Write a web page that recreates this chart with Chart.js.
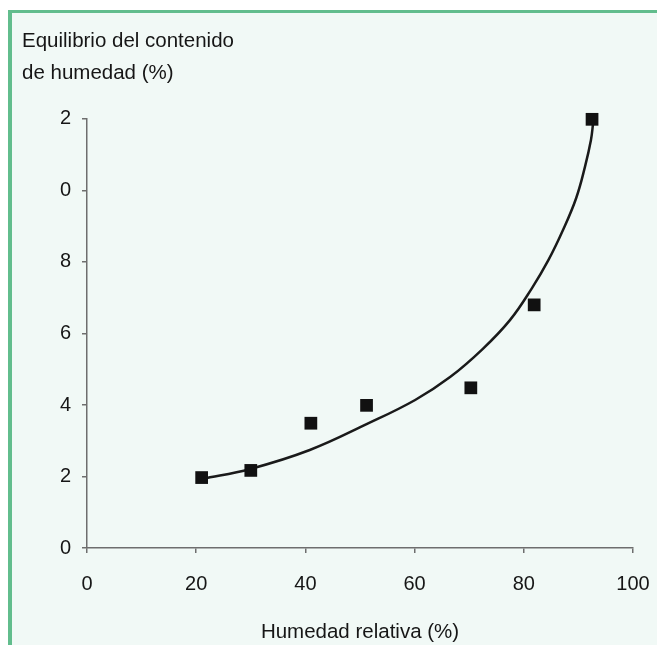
<!DOCTYPE html>
<html lang="es">
<head>
    <meta charset="UTF-8">
    <title>Equilibrio del contenido de humedad</title>
    <script src="https://cdn.jsdelivr.net/npm/chart.js"></script>
    <style>
        html, body {
            margin: 0;
            padding: 0;
            background: #ffffff;
            overflow: hidden;
        }
        .frame {
            position: absolute;
            left: 8px;
            top: 10px;
            right: 0;
            bottom: 0;
            border-left: 4px solid #62bd8d;
            border-top: 3px solid #62bd8d;
            background: #f1f9f6;
        }
        .chart-box {
            position: absolute;
            left: 0;
            top: 0;
            width: 657px;
            height: 645px;
        }
    </style>
</head>
<body>
    <div class="frame"></div>
    <div class="chart-box">
        <canvas id="humChart"></canvas>
    </div>

    <script>
        // puntos medidos
        const humedad = [21, 30, 41, 51.2, 70.3, 81.9, 92.5];
        const equilibrio = [1.97, 2.17, 3.49, 3.99, 4.48, 6.8, 11.99];

        // curva de ajuste
        const curvaX = [21.1, 29.9, 40.8, 51.3, 60.1, 66.5, 72.5, 77.5, 81.5, 84.5, 87.2, 89.6, 91.2, 92.3, 92.7];
        const curvaY = [1.93, 2.21, 2.74, 3.47, 4.14, 4.78, 5.57, 6.38, 7.27, 8.05, 8.9, 9.79, 10.66, 11.41, 11.89];

        // etiquetas del eje y tal como aparecen (el "1" esta cortado)
        const yTicks = ['0', '2', '4', '6', '8', '0', '2'];
        const xTicks = ['0', '20', '40', '60', '80', '100'];

        const tituloY = ['Equilibrio del contenido', 'de humedad (%)'];
        const tituloX = 'Humedad relativa (%)';

        const ejeColor = '#6e6e6e';
        const textoColor = '#161616';
        const fuente = "'Liberation Sans', Arial, Helvetica, sans-serif";

        const puntos = humedad.map((x, i) => ({ x: x, y: equilibrio[i] }));
        const curva = curvaX.map((x, i) => ({ x: x, y: curvaY[i] }));

        const ctx = document.getElementById('humChart').getContext('2d');
        new Chart(ctx, {
            type: 'scatter',
            data: {
                datasets: [{
                    data: puntos,
                    pointStyle: 'rect',
                    pointRadius: 9,
                    pointHoverRadius: 9,
                    backgroundColor: '#111111',
                    borderColor: '#111111',
                    borderWidth: 0,
                    showLine: false,
                    clip: false,
                    order: 1
                }, {
                    data: curva,
                    showLine: true,
                    pointRadius: 0,
                    borderColor: '#1a1a1a',
                    borderWidth: 2.5,
                    tension: 0.4,
                    clip: false,
                    order: 2
                }]
            },
            options: {
                responsive: true,
                maintainAspectRatio: false,
                animation: false,
                layout: {
                    padding: { left: 22, right: 24, top: 0, bottom: 0 }
                },
                plugins: {
                    legend: { display: false },
                    tooltip: { enabled: false },
                    title: {
                        display: true,
                        text: tituloY,
                        align: 'start',
                        color: textoColor,
                        font: { family: fuente, size: 20.5, weight: 'normal', lineHeight: 1.56 },
                        padding: { top: 25, bottom: 30 }
                    }
                },
                scales: {
                    x: {
                        type: 'linear',
                        min: 0,
                        max: 100,
                        border: { display: true, color: ejeColor, width: 1.5 },
                        grid: {
                            drawOnChartArea: false,
                            drawTicks: true,
                            tickLength: 5,
                            color: ejeColor,
                            lineWidth: 1.5
                        },
                        ticks: {
                            stepSize: 20,
                            padding: 19,
                            color: textoColor,
                            font: { family: fuente, size: 20 },
                            maxRotation: 0,
                            callback: (v, i) => xTicks[i]
                        },
                        title: {
                            display: true,
                            text: tituloX,
                            color: textoColor,
                            font: { family: fuente, size: 20.5 },
                            padding: { top: 27, bottom: 0 }
                        },
                        afterFit: (scale) => {
                            scale.height = 97;
                            scale.paddingRight = 0;
                            scale.paddingLeft = 0;
                        }
                    },
                    y: {
                        type: 'linear',
                        min: 0,
                        max: 12,
                        border: { display: true, color: ejeColor, width: 1.5 },
                        grid: {
                            drawOnChartArea: false,
                            drawTicks: true,
                            tickLength: 5,
                            color: ejeColor,
                            lineWidth: 1.5
                        },
                        ticks: {
                            stepSize: 2,
                            padding: 11,
                            color: textoColor,
                            font: { family: fuente, size: 20 },
                            callback: (v, i) => yTicks[i]
                        },
                        afterFit: (scale) => { scale.width = 65; }
                    }
                }
            }
        });
    </script>
</body>
</html>
